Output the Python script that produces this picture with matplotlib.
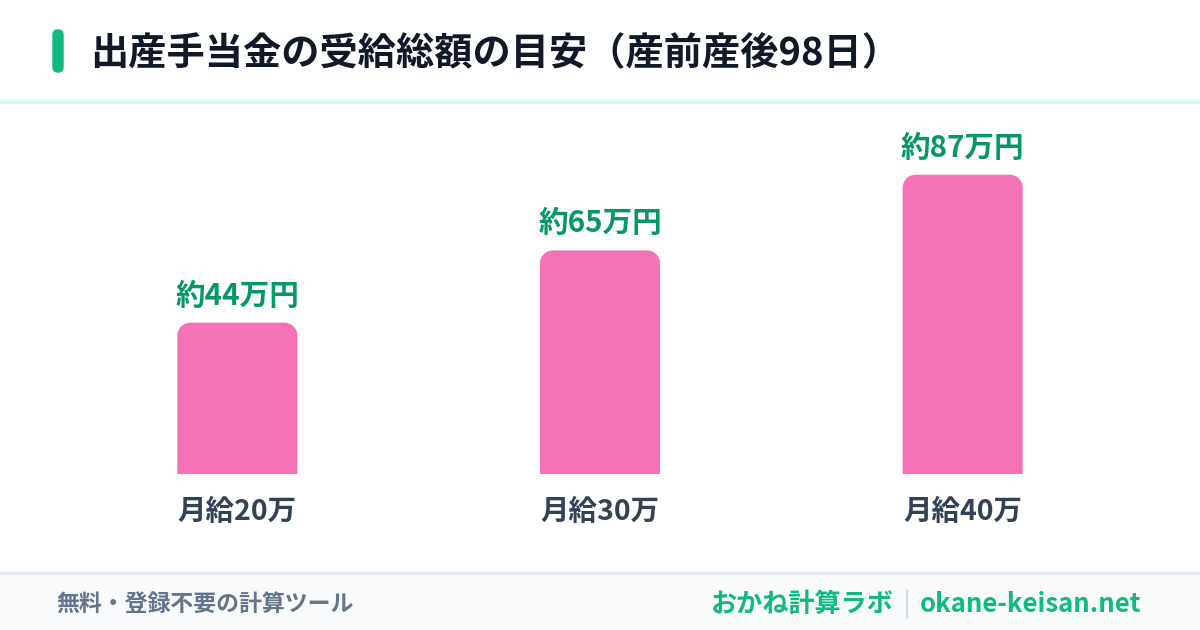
import matplotlib
matplotlib.use("Agg")
import numpy as np
import matplotlib.pyplot as plt
from matplotlib.patches import FancyBboxPatch, Rectangle, Polygon

plt.rcParams['font.family'] = ['Noto Sans CJK JP', 'DejaVu Sans']

# data
categories = ["月給20万", "月給30万", "月給40万"]
values = [44, 65, 87]
value_labels = ["約44万円", "約65万円", "約87万円"]

title = "出産手当金の受給総額の目安（産前産後98日）"
footer_left = "無料・登録不要の計算ツール"
footer_brand = "おかね計算ラボ"
footer_url = "okane-keisan.net"

W, H = 1200, 630
fig = plt.figure(figsize=(W / 100, H / 100), dpi=100)
fig.patch.set_facecolor("white")


def fx(px):
    return px / W


def fy(py):
    return 1 - py / H


# header: green pill + title + separator
fig.patches.append(FancyBboxPatch((fx(53), fy(72)), fx(10), (72 - 30) / H,
                                  boxstyle="round,pad=0,rounding_size=0.004",
                                  transform=fig.transFigure, color="#10b981",
                                  mutation_aspect=W / H))
fig.text(fx(90), fy(53), title, fontsize=27.5, fontweight="bold",
         color="#111827", va="center", ha="left")
fig.patches.append(Rectangle((0, fy(103)), 1, 3 / H, transform=fig.transFigure,
                             color="#d1fae5"))

# footer
fig.patches.append(Rectangle((0, 0), 1, (H - 572) / H, transform=fig.transFigure,
                             color="#f8fafc"))
fig.patches.append(Rectangle((0, fy(574)), 1, 2 / H, transform=fig.transFigure,
                             color="#e2e8f0"))
fig.text(fx(56), fy(604), footer_left, fontsize=16.5, fontweight="bold",
         color="#64748b", va="center", ha="left")
fig.text(fx(1141), fy(604), footer_url, fontsize=18.5, fontweight="bold",
         color="#10b981", va="center", ha="right")
fig.text(fx(894), fy(604), footer_brand, fontsize=18.8, fontweight="bold",
         color="#10b981", va="center", ha="right")
fig.lines.append(plt.Line2D([fx(907), fx(907)], [fy(590), fy(618)],
                            transform=fig.transFigure, color="#cbd5e1", lw=1.2))

# chart area
ax = fig.add_axes([fx(56), fy(474), fx(1144 - 56), (474 - 130) / H])
ax.set_xlim(-0.5, 2.5)
ax.set_ylim(0, 100)
ax.axis("off")

bar_w = 120 / 362.5
x_per_px = 3 / (1144 - 56)
y_per_px = 100 / (474 - 130)
rx = 13 * x_per_px
ry = 13 * y_per_px


def top_rounded(x0, w, h):
    # outline of a bar with rounded top corners, in data units
    t = np.linspace(0, np.pi / 2, 12)
    right = np.column_stack([x0 + w - rx + rx * np.cos(t), h - ry + ry * np.sin(t)])
    left = np.column_stack([x0 + rx - rx * np.sin(t), h - ry + ry * np.cos(t)])
    pts = np.vstack([[x0, 0], [x0 + w, 0], right, left])
    return pts


bars = ax.bar(range(len(values)), values, width=bar_w, color="none")
for b, lab, cat in zip(bars, value_labels, categories):
    x0, w, h = b.get_x(), b.get_width(), b.get_height()
    ax.add_patch(Polygon(top_rounded(x0, w, h), closed=True,
                         facecolor="#f472b6", edgecolor="none"))
    ax.text(x0 + w / 2, h + 27 * y_per_px, lab, ha="center", va="center",
            fontsize=21.3, fontweight="bold", color="#059669")
    ax.text(x0 + w / 2, -38 * y_per_px, cat, ha="center", va="center",
            fontsize=20.5, fontweight="bold", color="#334155", clip_on=False)

fig.savefig("out.png", dpi=100, facecolor="white")
